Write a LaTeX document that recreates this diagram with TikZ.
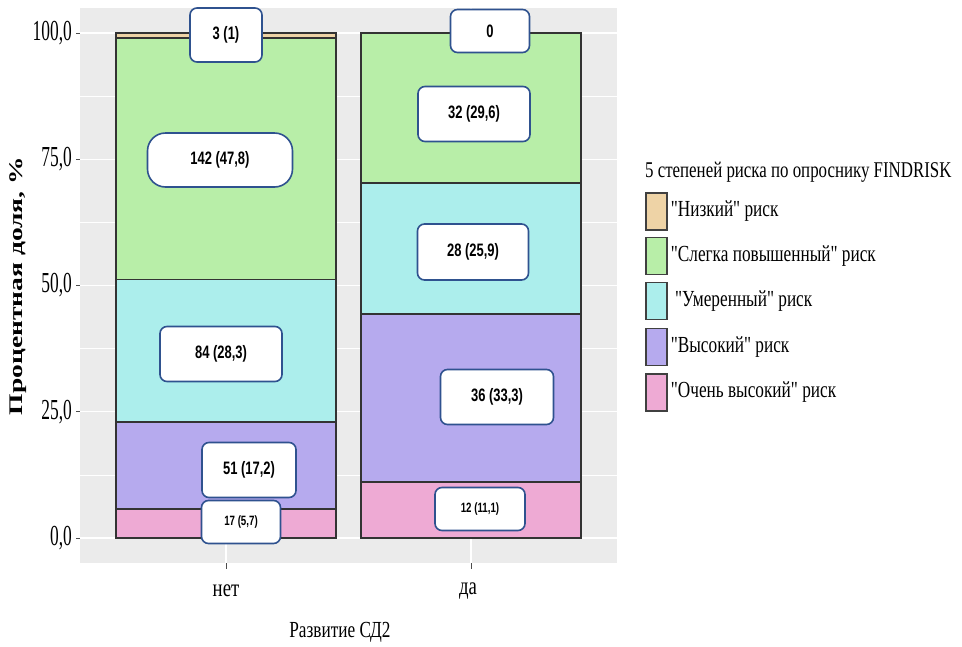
\documentclass[tikz,border=0pt]{standalone}
\usepackage{fontspec}
\usetikzlibrary{positioning}
\setmainfont[FakeStretch=0.75]{Liberation Serif}
\newfontfamily\legfont[FakeStretch=0.75]{Liberation Serif}
\newfontfamily\tickfont[FakeStretch=0.6]{Liberation Serif}
\newfontfamily\boxfont[FakeStretch=0.72]{Liberation Sans}
\newfontfamily\ytfont{Liberation Serif}
\definecolor{panel}{RGB}{235,235,235}
\definecolor{low}{RGB}{238,211,166}
\definecolor{slight}{RGB}{184,238,168}
\definecolor{moder}{RGB}{172,238,236}
\definecolor{high}{RGB}{182,170,238}
\definecolor{vhigh}{RGB}{238,170,212}
\definecolor{boxblue}{RGB}{47,82,143}
\begin{document}
\begin{tikzpicture}[x=1pt,y=-1pt,
  lbl/.style={draw=boxblue, line width=1.6pt, fill=white, rounded corners=7pt, inner sep=0pt,
    font=\boxfont\bfseries\fontsize{18}{18}\selectfont},
  small/.style={font=\boxfont\bfseries\fontsize{13.5}{13.5}\selectfont},
  key/.style={draw=black!75, line width=1.3pt, minimum width=21pt, minimum height=37pt, inner sep=0pt},
  seg/.style={draw=black!80, line width=1.8pt},
  tick/.style={font=\tickfont\fontsize{29}{29}\selectfont, anchor=east, inner sep=0pt},
  leg/.style={font=\legfont\fontsize{23}{23}\selectfont, anchor=west, inner sep=0pt}]
\useasboundingbox (0,0) rectangle (962,646);
\fill[white] (0,0) rectangle (962,646);
\fill[panel] (80,8) rectangle (617,563);
\draw[white, line width=1.4pt] (226,8) -- (226,563);
\draw[white, line width=1.4pt] (471,8) -- (471,563);
\draw[black!70, line width=1pt] (226,563) -- (226,569);
\draw[black!70, line width=1pt] (471,563) -- (471,569);

\begin{scope}[shift={(0,538)}, y=5.05pt]
\foreach \v in {12.5,37.5,62.5,87.5}
  \draw[white, line width=0.7pt] (80,\v) -- (617,\v);
\foreach \v/\t in {0/{0,0},25/{25,0},50/{50,0},75/{75,0},100/{100,0}}{
  \draw[white, line width=1.4pt] (80,\v) -- (617,\v);
  \draw[black!70, line width=1pt] (76,\v) -- (80,\v);
  \node[tick] (y\v) at (72,\v) {\t};
}
\fill[vhigh] (116,0) rectangle (336,5.7);
\fill[high] (116,5.7) rectangle (336,22.9);
\fill[moder] (116,22.9) rectangle (336,51.2);
\fill[slight] (116,51.2) rectangle (336,99);
\fill[low] (116,99) rectangle (336,100);
\foreach \a/\b in {0/5.7,5.7/22.9,22.9/51.2,51.2/99,99/100}
  \draw[seg] (116,\a) rectangle (336,\b);

\fill[vhigh] (361,0) rectangle (581,11.1);
\fill[high] (361,11.1) rectangle (581,44.4);
\fill[moder] (361,44.4) rectangle (581,70.3);
\fill[slight] (361,70.3) rectangle (581,100);
\foreach \a/\b in {0/11.1,11.1/44.4,44.4/70.3,70.3/100}
  \draw[seg] (361,\a) rectangle (581,\b);
\end{scope}

\node[lbl, minimum width=72pt, minimum height=54pt] (n1) at (226,35) {3 (1)};
\node[lbl, rounded corners=18pt, minimum width=145pt, minimum height=54pt] (n2) at (220,160) {142 (47,8)};
\node[lbl, minimum width=122pt, minimum height=55pt] (n3) at (221,354) {84 (28,3)};
\node[lbl, minimum width=94pt, minimum height=55pt] (n4) at (249,470) {51 (17,2)};
\node[lbl, small, minimum width=79pt, minimum height=43pt] (n5) at (241,522) {17 (5,7)};

\node[lbl, minimum width=79pt, minimum height=43pt] (d1) at (490,31) {0};
\node[lbl, minimum width=112pt, minimum height=55pt] (d2) at (474,114) {32 (29,6)};
\node[lbl, minimum width=111pt, minimum height=56pt] (d3) at (473,252) {28 (25,9)};
\node[lbl, minimum width=113pt, minimum height=55pt] (d4) at (497,397) {36 (33,3)};
\node[lbl, small, minimum width=90pt, minimum height=43pt] (d5) at (480,509) {12 (11,1)};

\node[font=\fontsize{25}{25}\selectfont] (xn) at (226,591) {нет};
\node[font=\fontsize{25}{25}\selectfont] (xd) at (468,591) {да};
\node[font=\fontsize{23}{23}\selectfont] (xt) at (340,632) {Развитие СД2};
\node[rotate=90, font=\ytfont\bfseries\fontsize{27.5}{27.5}\selectfont] (yt) at (18,286)
  {\scalebox{1}[0.7]{Процентная доля, \%}};

\node[leg, font=\legfont\fontsize{22.5}{22.5}\selectfont] (lt) at (645,172) {5 степеней риска по опроснику FINDRISK};
\node[key, fill=low] (k1) at (656.5,211.5) {};
\node[key, fill=slight] (k2) at (656.5,256) {};
\node[key, fill=moder] (k3) at (656.5,301) {};
\node[key, fill=high] (k4) at (656.5,347) {};
\node[key, fill=vhigh] (k5) at (656.5,392.5) {};
\node[leg, right=3pt of k1] (t1) {"Низкий" риск};
\node[leg, right=3pt of k2] (t2) {"Слегка повышенный" риск};
\node[leg, right=3pt of k3] (t3) {\ "Умеренный" риск};
\node[leg, right=3pt of k4] (t4) {"Высокий" риск};
\node[leg, right=3pt of k5] (t5) {"Очень высокий" риск};
\end{tikzpicture}
\end{document}
